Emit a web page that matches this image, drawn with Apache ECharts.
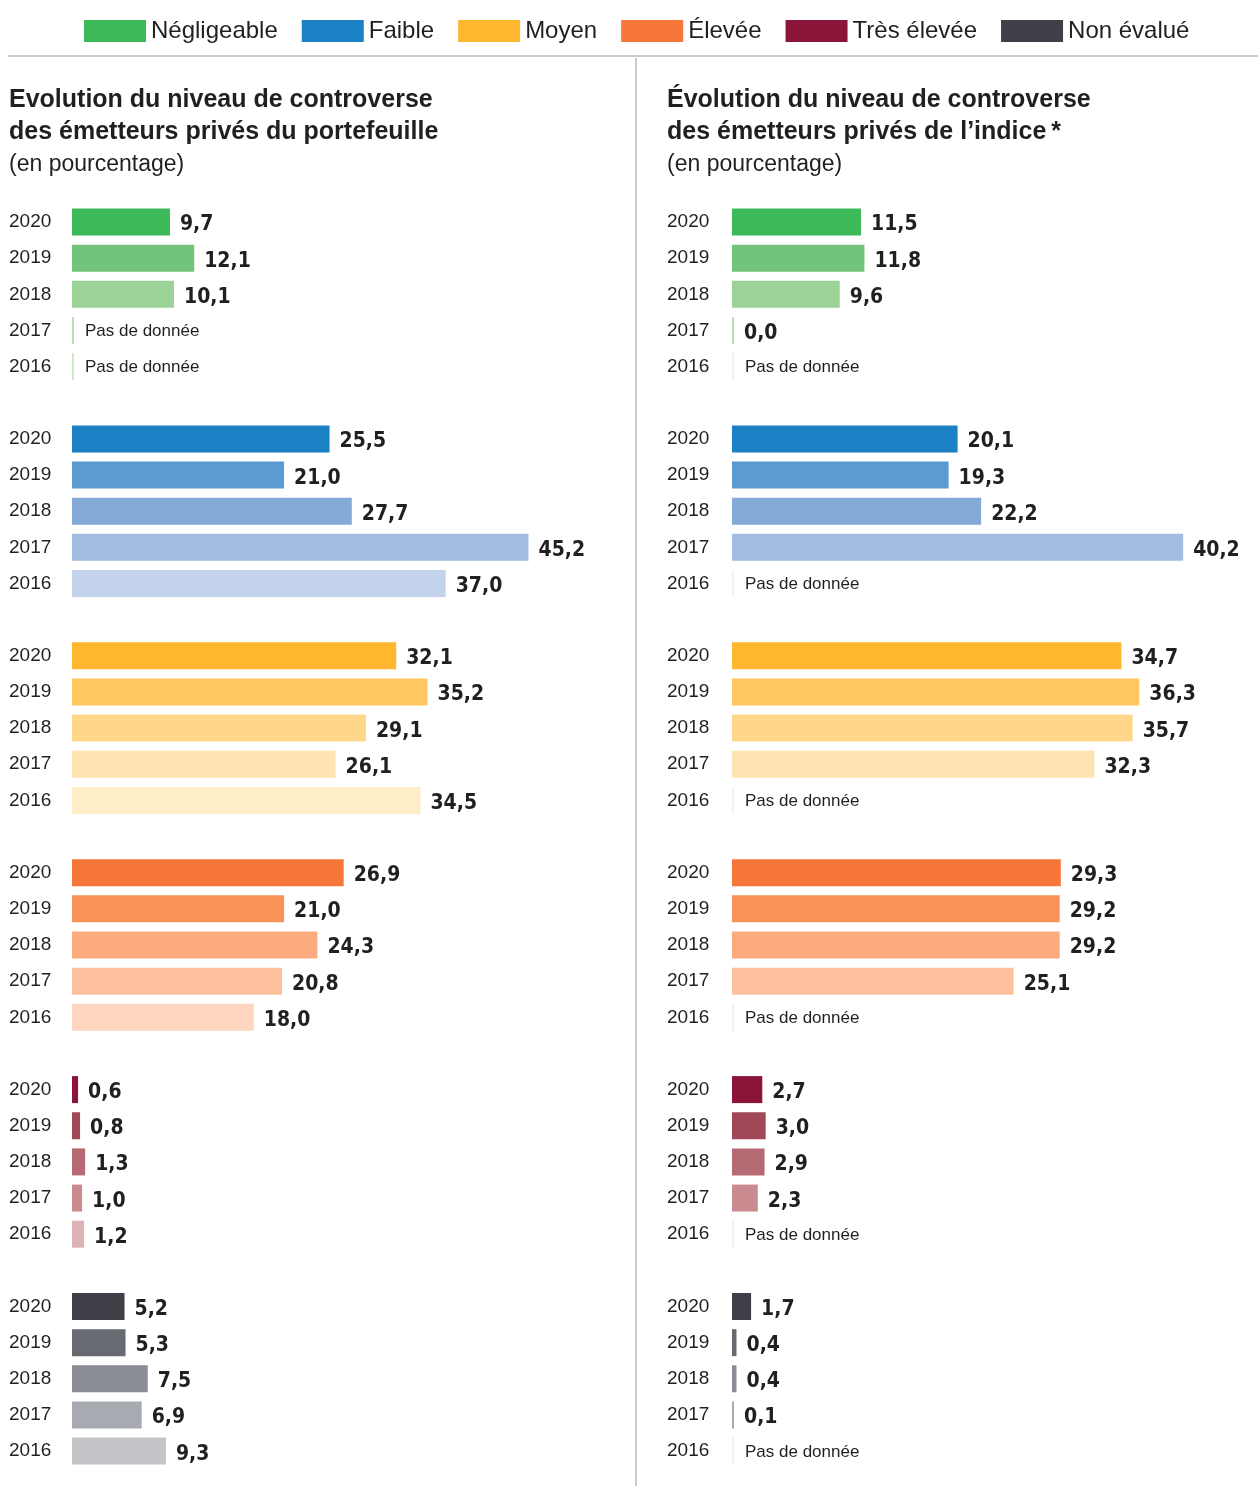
<!DOCTYPE html>
<html>
<head>
<meta charset="utf-8">
<script src="https://cdn.jsdelivr.net/npm/echarts@6/dist/echarts.min.js"></script>
<style>
  html, body { margin: 0; padding: 0; background: #fff; }
  #chart { width: 1258px; height: 1486px; }
</style>
</head>
<body>
<div id="chart"></div>
<script>
// années, de la plus récente à la plus ancienne
var years = ['2020', '2019', '2018', '2017', '2016'];
var levels = ['Négligeable', 'Faible', 'Moyen', 'Élevée', 'Très élevée', 'Non évalué'];

// portefeuille (null = pas de donnée)
var pfNegligeable = [9.7, 12.1, 10.1, null, null];
var pfFaible      = [25.5, 21.0, 27.7, 45.2, 37.0];
var pfMoyen       = [32.1, 35.2, 29.1, 26.1, 34.5];
var pfElevee      = [26.9, 21.0, 24.3, 20.8, 18.0];
var pfTresElevee  = [0.6, 0.8, 1.3, 1.0, 1.2];
var pfNonEvalue   = [5.2, 5.3, 7.5, 6.9, 9.3];

// indice
var idxNegligeable = [11.5, 11.8, 9.6, 0.0, null];
var idxFaible      = [20.1, 19.3, 22.2, 40.2, null];
var idxMoyen       = [34.7, 36.3, 35.7, 32.3, null];
var idxElevee      = [29.3, 29.2, 29.2, 25.1, null];
var idxTresElevee  = [2.7, 3.0, 2.9, 2.3, null];
var idxNonEvalue   = [1.7, 0.4, 0.4, 0.1, null];

// une palette par niveau, 2020 -> 2016
var shades = [
    ['#3cba5a', '#72c47a', '#9bd397', '#b9e0b3', '#cfe9ca'],
    ['#1b80c4', '#5b9bd2', '#84aad8', '#a3bde2', '#c3d3ec'],
    ['#feb72e', '#ffc75f', '#ffd78b', '#ffe4b1', '#ffedc8'],
    ['#f7773a', '#f99257', '#fcab7e', '#fdc19f', '#fed6bf'],
    ['#8b1538', '#a14858', '#b56a74', '#c98b90', '#ddb3b6'],
    ['#3f3f48', '#686a72', '#8a8d95', '#a8aab1', '#c4c5c9']
];

var textColor = '#231f20';
var numFont = '"DejaVu Sans Condensed", "Liberation Sans", sans-serif';
var txtFont = '"Liberation Sans", Arial, sans-serif';

// axe des catégories : 5 années par niveau + une ligne vide entre les blocs
var cats = [];
levels.forEach(function (l, g) {
    years.forEach(function (y) { cats.push(y); });
    if (g < levels.length - 1) cats.push('');
});

function fmt(v) {
    return v.toFixed(1).replace('.', ',');
}

function buildData(groups, missingColor) {
    var out = [];
    groups.forEach(function (vals, g) {
        vals.forEach(function (v, i) {
            if (v === null) {
                out.push({
                    value: 0,
                    itemStyle: { color: missingColor || shades[g][i] },
                    label: {
                        formatter: 'Pas de donnée',
                        fontFamily: txtFont,
                        fontWeight: 'normal',
                        fontSize: 17,
                        distance: 11,
                        offset: [0, 1]
                    }
                });
            } else {
                out.push({ value: v, itemStyle: { color: shades[g][i] } });
            }
        });
        if (g < groups.length - 1) out.push('-');
    });
    return out;
}

var pfData = buildData([pfNegligeable, pfFaible, pfMoyen, pfElevee, pfTresElevee, pfNonEvalue]);
var idxData = buildData([idxNegligeable, idxFaible, idxMoyen, idxElevee, idxTresElevee, idxNonEvalue], '#f1f1f1');

var rowH = 36.15;
var gridTop = 222 - rowH / 2;
var gridH = rowH * cats.length;

var chart = echarts.init(document.getElementById('chart'));

function yAxisFor(idx, margin) {
    return {
        type: 'category',
        gridIndex: idx,
        data: cats,
        inverse: true,
        axisLine: { show: false },
        axisTick: { show: false },
        splitLine: { show: false },
        axisLabel: {
            align: 'left',
            margin: margin,
            color: textColor,
            fontFamily: txtFont,
            fontSize: 19,
            padding: [8, 0, 0, 0],
            interval: 0
        }
    };
}

function barSeries(idx, data) {
    return {
        type: 'bar',
        xAxisIndex: idx,
        yAxisIndex: idx,
        data: data,
        barWidth: 27,
        barMinHeight: 2,
        silent: true,
        label: {
            show: true,
            position: 'right',
            distance: 10,
            offset: [0, 3],
            color: textColor,
            fontFamily: numFont,
            fontWeight: 'bold',
            fontSize: 21,
            formatter: function (p) { return fmt(p.value); }
        }
    };
}

// séries vides pour la légende
var legendSeries = levels.map(function (l, g) {
    return {
        name: l,
        type: 'line',
        data: [],
        xAxisIndex: 0,
        yAxisIndex: 0,
        itemStyle: { color: shades[g][0] },
        lineStyle: { color: shades[g][0] }
    };
});

var option = {
    backgroundColor: '#ffffff',
    animation: false,
    legend: {
        data: levels,
        left: 84,
        top: 19,
        icon: 'rect',
        itemWidth: 62,
        itemHeight: 22,
        itemGap: 24,
        padding: 0,
        selectedMode: false,
        textStyle: { color: textColor, fontFamily: txtFont, fontSize: 24 }
    },
    title: [
        {
            text: 'Evolution du niveau de controverse\ndes émetteurs privés du portefeuille',
            subtext: '(en pourcentage)',
            left: 9,
            top: 84,
            padding: 0,
            itemGap: 3,
            textStyle: { color: textColor, fontFamily: txtFont, fontSize: 25, fontWeight: 'bold', lineHeight: 32 },
            subtextStyle: { color: textColor, fontFamily: txtFont, fontSize: 23, lineHeight: 28 }
        },
        {
            text: 'Évolution du niveau de controverse\ndes émetteurs privés de l\u2019indice\u2009*',
            subtext: '(en pourcentage)',
            left: 667,
            top: 84,
            padding: 0,
            itemGap: 3,
            textStyle: { color: textColor, fontFamily: txtFont, fontSize: 25, fontWeight: 'bold', lineHeight: 32 },
            subtextStyle: { color: textColor, fontFamily: txtFont, fontSize: 23, lineHeight: 28 }
        }
    ],
    graphic: [
        { type: 'line', shape: { x1: 8, y1: 56, x2: 1258, y2: 56 }, style: { stroke: '#cccccc', lineWidth: 2 } },
        { type: 'line', shape: { x1: 636, y1: 58, x2: 636, y2: 1486 }, style: { stroke: '#cccccc', lineWidth: 2 } }
    ],
    grid: [
        { left: 72, top: gridTop, width: 505, height: gridH },
        { left: 732, top: gridTop, width: 505, height: gridH }
    ],
    xAxis: [
        { type: 'value', gridIndex: 0, min: 0, max: 50, show: false },
        { type: 'value', gridIndex: 1, min: 0, max: 45, show: false }
    ],
    yAxis: [yAxisFor(0, 63), yAxisFor(1, 65)],
    series: [barSeries(0, pfData), barSeries(1, idxData)].concat(legendSeries)
};

chart.setOption(option);
</script>
</body>
</html>
